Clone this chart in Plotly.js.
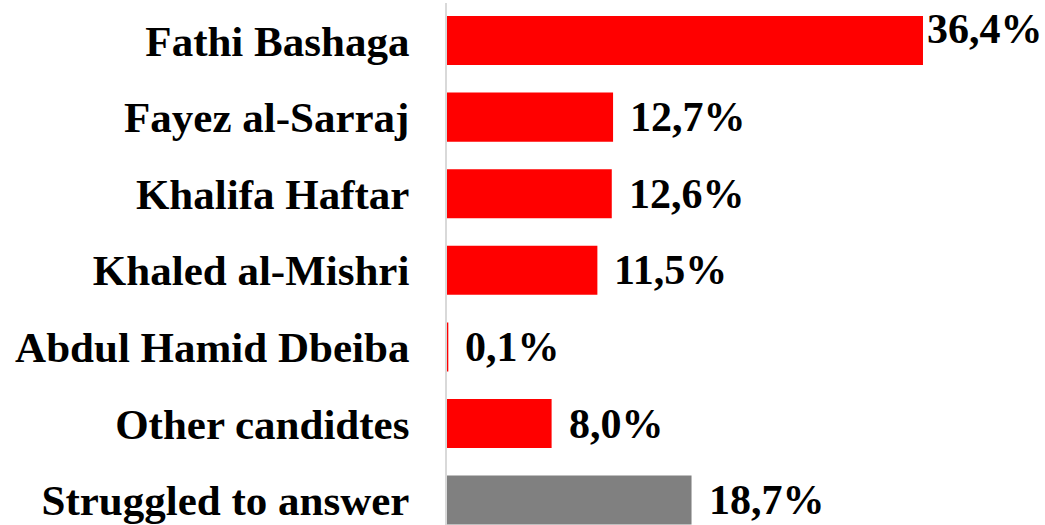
<!DOCTYPE html>
<html>
<head>
<meta charset="utf-8">
<script src="https://cdn.plot.ly/plotly-3.0.1.min.js"></script>
<style>html,body{margin:0;padding:0;background:#fff;}#chart{width:1045px;height:525px;}</style>
</head>
<body>
<div id="chart"></div>
<script>
var categories = ["Fathi Bashaga", "Fayez al-Sarraj", "Khalifa Haftar", "Khaled al-Mishri", "Abdul Hamid Dbeiba", "Other candidtes", "Struggled to answer"];
var values = [36.4, 12.7, 12.6, 11.5, 0.1, 8.0, 18.7];
var valueLabels = ["36,4%", "12,7%", "12,6%", "11,5%", "0,1%", "8,0%", "18,7%"];
var barColors = ["#FF0000", "#FF0000", "#FF0000", "#FF0000", "#FF0000", "#FF0000", "#808080"];

var fontFam = "'Liberation Serif', 'Times New Roman', serif";
var maxVal = Math.max.apply(null, values);

var annotations = values.map(function (v, i) {
  var isMax = v === maxVal;
  return {
    x: v, y: categories[i], xref: 'x', yref: 'y',
    text: '<b>' + valueLabels[i] + '</b>',
    showarrow: false, xanchor: 'left', yanchor: 'middle',
    xshift: isMax ? 2 : 15, yshift: isMax ? 12 : 0,
    font: {family: fontFam, size: 42, color: '#000'}
  };
});

var trace = {
  type: 'bar', orientation: 'h',
  x: values, y: categories,
  marker: {color: barColors, line: {width: 0}},
  width: 0.64,
  hoverinfo: 'none'
};

var layout = {
  width: 1045, height: 525,
  margin: {l: 447, r: 0, t: 3, b: 0, pad: 0},
  paper_bgcolor: '#fff', plot_bgcolor: '#fff',
  showlegend: false,
  xaxis: {range: [0, 45.73], visible: false, fixedrange: true},
  yaxis: {
    type: 'category',
    range: [6.325, -0.49],
    showline: true, linecolor: '#d9d9d9', linewidth: 2,
    showgrid: false, zeroline: false,
    ticks: '', ticklabelstandoff: 27,
    tickfont: {family: fontFam, size: 43, color: '#000', weight: 'bold'},
    fixedrange: true
  },
  annotations: annotations
};

Plotly.newPlot('chart', [trace], layout, {displayModeBar: false, staticPlot: true});
</script>
</body>
</html>
